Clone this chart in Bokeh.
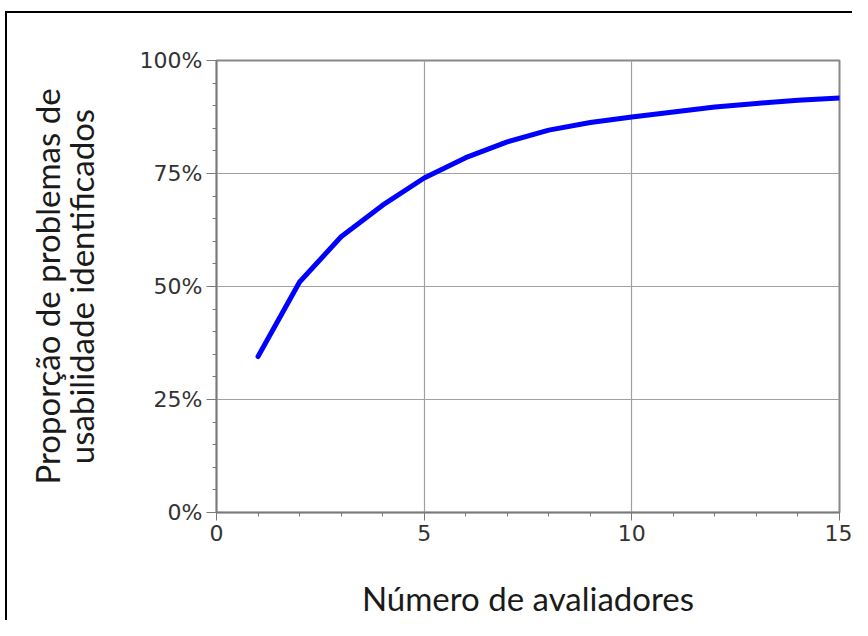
from bokeh.plotting import figure
from bokeh.models import FixedTicker, PrintfTickFormatter, Range1d
from bokeh.embed import file_html
from bokeh.resources import INLINE

avaliadores = [1, 2, 3, 4, 5, 6, 7, 8, 9, 10, 11, 12, 13, 14, 15]
proporcao = [34.5, 51.0, 61.0, 68.0, 74.0, 78.5, 82.0, 84.6, 86.3, 87.5, 88.6, 89.7, 90.5, 91.2, 91.7]

x_ticks = [0, 5, 10, 15]
y_ticks = [0, 25, 50, 75, 100]

p = figure(width=852, height=620, output_backend="svg", toolbar_location=None,
           x_range=Range1d(0, 15), y_range=Range1d(0, 100),
           min_border_left=216, min_border_right=13, min_border_top=60, min_border_bottom=107)
p.border_fill_color = None
p.background_fill_color = "white"
p.styles = {
    "background-color": "white",
    "background-image": "linear-gradient(black, black), linear-gradient(black, black)",
    "background-size": "2px 100%, 100% 2px",
    "background-position": "5px 11px, 5px 11px",
    "background-repeat": "no-repeat",
}

p.line(avaliadores, proporcao, line_color="#0000ff", line_width=5,
       line_join="round", line_cap="round")

p.xaxis.ticker = FixedTicker(ticks=x_ticks, minor_ticks=list(range(0, 16)))
p.yaxis.ticker = FixedTicker(ticks=y_ticks, minor_ticks=list(range(0, 101, 5)))
p.yaxis.formatter = PrintfTickFormatter(format="%d%%")

for ax in (p.xaxis, p.yaxis):
    ax.axis_line_color = "#7a7a7a"
    ax.axis_line_width = 1.5
    ax.major_tick_line_color = "#7a7a7a"
    ax.minor_tick_line_color = "#7a7a7a"
    ax.major_tick_in = 0
    ax.minor_tick_in = 0
    ax.major_label_text_font = "DejaVu Sans"
    ax.major_label_text_font_size = "22px"
    ax.major_label_text_color = "#333333"
    ax.axis_label_text_font = "Lato"
    ax.axis_label_text_font_size = "33px"
    ax.axis_label_text_font_style = "normal"
    ax.axis_label_text_color = "#1a1a1a"

p.xaxis.major_tick_out = 8
p.xaxis.minor_tick_out = 4
p.xaxis.major_label_standoff = 4
p.xaxis.axis_label = "Número de avaliadores"
p.xaxis.axis_label_standoff = 34

p.yaxis.major_tick_out = 10
p.yaxis.minor_tick_out = 4
p.yaxis.major_label_standoff = 4
p.yaxis.axis_label = "Proporção de problemas de\nusabilidade identificados"
p.yaxis.axis_label_standoff = 36
p.yaxis.axis_label_text_line_height = 0.85

p.xgrid.grid_line_color = "#a0a0a0"
p.ygrid.grid_line_color = "#a0a0a0"
p.xgrid.grid_line_width = 1.2
p.ygrid.grid_line_width = 1.2
p.outline_line_color = "#888888"
p.outline_line_width = 2
p.outline_line_alpha = 1

open("out.html", "w").write(file_html(p, INLINE))
